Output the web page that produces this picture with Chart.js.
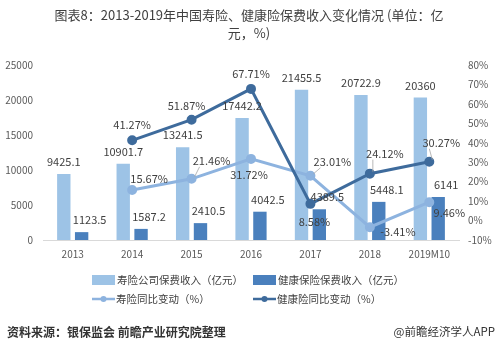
<!DOCTYPE html>
<html>
<head>
<meta charset="utf-8">
<script src="https://cdn.jsdelivr.net/npm/chart.js@4"></script>
<style>
  html, body { margin: 0; padding: 0; background: #fff; }
  #wrap { width: 499px; height: 351px; }
</style>
</head>
<body>
<div id="wrap"><canvas id="chart" width="499" height="351"></canvas></div>
<script>
// données
const categories = ['2013', '2014', '2015', '2016', '2017', '2018', '2019M10'];
const lifePremium = [9425.1, 10901.7, 13241.5, 17442.2, 21455.5, 20722.9, 20360];
const healthPremium = [1123.5, 1587.2, 2410.5, 4042.5, 4389.5, 5448.1, 6141];
const lifeGrowth = [null, 15.67, 21.46, 31.72, 23.01, -3.41, 9.46];
const healthGrowth = [null, 41.27, 51.87, 67.71, 8.58, 24.12, 30.27];
const seriesNames = ['寿险公司保费收入（亿元）', '健康保险保费收入（亿元）', '寿险同比变动（%）', '健康险同比变动（%）'];
const titleLines = ['图表8：2013-2019年中国寿险、健康险保费收入变化情况 (单位：亿', '元，%)'];
const sourceText = '资料来源：银保监会 前瞻产业研究院整理';
const brandText = '@前瞻经济学人APP';

const FONT = '"Noto Sans CJK SC", "Noto Sans", sans-serif';
const LIGHT_BAR = '#9dc3e6';
const DARK_BAR = '#4a80bd';
const LIGHT_LINE = '#8db3df';
const DARK_LINE = '#3e6b9c';
const TXT = '#404040';

// décalage des étiquettes (dx, dy) par point
const lifeLblOff = [null, [17, -11], [20, -18], [-2, 16], [22, -14], [28, 5], [20, 11]];
const healthLblOff = [null, [0, -15], [-5, -14], [0, -15], [4, 18], [15, -20], [12, -19]];
const leaders = { life: [2, 4], health: [5, 6] };

const labelsPlugin = {
  id: 'labels',
  afterDatasetsDraw(chart) {
    const ctx = chart.ctx;
    ctx.save();
    ctx.font = '11px ' + FONT;
    ctx.fillStyle = TXT;
    ctx.textAlign = 'center';
    ctx.textBaseline = 'middle';
    // barres
    chart.getDatasetMeta(0).data.forEach((el, i) => {
      ctx.fillText(String(lifePremium[i]), el.x, el.y - 12);
    });
    chart.getDatasetMeta(1).data.forEach((el, i) => {
      ctx.fillText(String(healthPremium[i]), el.x + 8, el.y - 12);
    });
    // courbes
    const drawLine = (idx, vals, offs, lead) => {
      chart.getDatasetMeta(idx).data.forEach((el, i) => {
        if (vals[i] === null) return;
        const o = offs[i];
        const lx = el.x + o[0], ly = el.y + o[1];
        if (lead.includes(i)) {
          ctx.strokeStyle = '#a6a6a6';
          ctx.lineWidth = 0.8;
          ctx.beginPath();
          ctx.moveTo(el.x + 3, el.y - 2);
          ctx.lineTo(lx - 12, ly + 6);
          ctx.stroke();
        }
        ctx.fillText(vals[i].toFixed(2) + '%', lx, ly);
      });
    };
    drawLine(2, lifeGrowth, lifeLblOff, leaders.life);
    drawLine(3, healthGrowth, healthLblOff, leaders.health);
    ctx.restore();
  },
  afterDraw(chart) {
    const ctx = chart.ctx;
    ctx.save();
    // titre
    ctx.fillStyle = TXT;
    ctx.font = '13px ' + FONT;
    ctx.textAlign = 'center';
    ctx.textBaseline = 'middle';
    ctx.fillText(titleLines[0], 249, 15);
    ctx.fillText(titleLines[1], 249, 33);
    // légende
    ctx.font = '10.5px ' + FONT;
    ctx.textAlign = 'left';
    ctx.fillStyle = LIGHT_BAR;
    ctx.fillRect(92, 275, 23, 10);
    ctx.fillStyle = DARK_BAR;
    ctx.fillRect(253, 275, 23, 10);
    const lg = (x, y, c) => {
      ctx.strokeStyle = c;
      ctx.lineWidth = 2.5;
      ctx.beginPath();
      ctx.moveTo(x, y);
      ctx.lineTo(x + 23, y);
      ctx.stroke();
      ctx.fillStyle = c;
      ctx.beginPath();
      ctx.arc(x + 11.5, y, 3, 0, Math.PI * 2);
      ctx.fill();
    };
    lg(92, 299, LIGHT_LINE);
    lg(253, 299, DARK_LINE);
    ctx.fillStyle = TXT;
    ctx.fillText(seriesNames[0], 117, 280);
    ctx.fillText(seriesNames[1], 278, 280);
    ctx.fillText(seriesNames[2], 116, 299);
    ctx.fillText(seriesNames[3], 277, 299);
    // source
    ctx.font = 'bold 12px ' + FONT;
    ctx.fillStyle = '#333';
    ctx.fillText(sourceText, 7, 332);
    ctx.font = '11.5px ' + FONT;
    ctx.textAlign = 'right';
    ctx.fillText(brandText, 495, 332);
    ctx.restore();
  }
};

new Chart(document.getElementById('chart').getContext('2d'), {
  type: 'bar',
  data: {
    labels: categories,
    datasets: [{
      label: seriesNames[0],
      data: lifePremium,
      backgroundColor: LIGHT_BAR,
      yAxisID: 'y',
      order: 2,
      categoryPercentage: 0.6,
      barPercentage: 0.75
    }, {
      label: seriesNames[1],
      data: healthPremium,
      backgroundColor: DARK_BAR,
      yAxisID: 'y',
      order: 3,
      categoryPercentage: 0.6,
      barPercentage: 0.75
    }, {
      type: 'line',
      label: seriesNames[2],
      data: lifeGrowth,
      borderColor: LIGHT_LINE,
      backgroundColor: LIGHT_LINE,
      borderWidth: 3,
      pointRadius: 3.5,
      yAxisID: 'y1',
      order: 1
    }, {
      type: 'line',
      label: seriesNames[3],
      data: healthGrowth,
      borderColor: DARK_LINE,
      backgroundColor: DARK_LINE,
      borderWidth: 3,
      pointRadius: 3.5,
      yAxisID: 'y1',
      order: 0
    }]
  },
  options: {
    responsive: false,
    animation: false,
    layout: { padding: { top: 65, left: 0, right: 0, bottom: 0 } },
    plugins: {
      legend: { display: false },
      title: { display: false },
      tooltip: { enabled: false }
    },
    scales: {
      x: {
        grid: { display: false, drawTicks: false },
        border: { display: true, color: '#d9d9d9', width: 1 },
        ticks: { color: '#595959', font: { size: 10, family: FONT }, padding: 8, maxRotation: 0 },
        afterFit(s) { s.height = 111; }
      },
      y: {
        position: 'left',
        min: 0, max: 25000,
        grid: { display: false, drawTicks: false },
        border: { display: false },
        ticks: { stepSize: 5000, color: '#595959', font: { size: 10, family: FONT }, padding: 10,
          callback: v => String(v) },
        afterFit(s) { s.width = 43; }
      },
      y1: {
        position: 'right',
        min: -10, max: 80,
        grid: { display: false, drawTicks: false },
        border: { display: false },
        ticks: { stepSize: 10, color: '#595959', font: { size: 10, family: FONT }, padding: 9,
          callback: v => v + '%' },
        afterFit(s) { s.width = 40; }
      }
    }
  },
  plugins: [labelsPlugin]
});
</script>
</body>
</html>
